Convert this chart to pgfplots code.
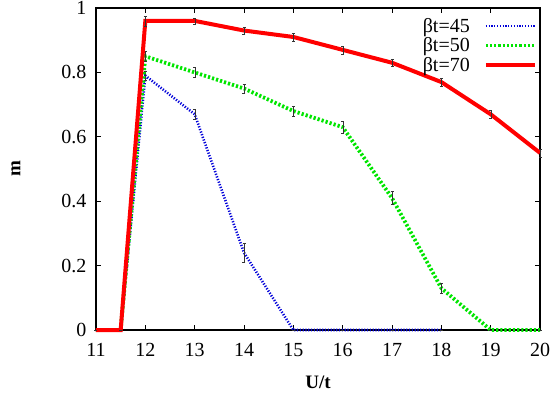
\documentclass[border=0pt]{standalone}
\usepackage{pgfplots}
\pgfplotsset{compat=1.18}
\usepackage{fontspec}
\setmainfont{Liberation Serif}
\begin{document}
\begin{tikzpicture}
\begin{axis}[
  name=ax,
  scale only axis,
  width=444pt, height=322pt,
  xmin=11, xmax=20, ymin=0, ymax=1,
  xtick={11,12,...,20},
  ytick={0,0.2,0.4,0.6,0.8,1},
  yticklabels={0,0.2,0.4,0.6,0.8,1},
  tick align=inside,
  major tick length=5pt,
  axis line style={line width=1.2pt},
  tick style={black, line width=0.8pt},
  ticklabel style={font=\fontsize{20}{22}\selectfont},
  /pgf/number format/assume math mode=true,
  xticklabel style={yshift=-10pt},
  yticklabel style={xshift=-6pt},
  xlabel={U/t},
  ylabel={m},
  label style={font=\fontsize{19}{22}\selectfont\bfseries},
  xlabel style={at={(axis description cs:0.5,0)}, anchor=north, yshift=-42pt},
  ylabel style={at={(axis description cs:0,0.5)}, anchor=south, yshift=72pt},
  clip=false,
  legend style={draw=none, fill=none, at={(1,1)}, anchor=north east,
    font=\fontsize{20}{20}\selectfont, row sep=0pt, xshift=-3pt, yshift=-8pt,
    inner sep=0pt, column sep=12pt},
  legend cell align=right,
  legend plot pos=right,
  legend image code/.code={\draw[#1] (0pt,0pt) -- (49pt,0pt);},
  error bars/y dir=both,
  error bars/y explicit,
  error bars/error bar style={black!80, line width=0.3pt, solid},
  error bars/error mark options={black!80, line width=0.3pt, solid, rotate=90, mark size=1.5pt},
]
\addplot[blue!85!black, line width=2.6pt, dash pattern=on 1.2pt off 1.6pt] coordinates {
 (11,0) +- (0,0) (11.5,0) +- (0,0) (12,0.79) +- (0,0.015) (13,0.67) +- (0,0.015) (14,0.24) +- (0,0.03)
 (15,0) +- (0,0) (16,0) +- (0,0) (17,0) +- (0,0) (18,0) +- (0,0)};
\addlegendentry{βt=45}
\addplot[green!90!black, line width=3.8pt, dash pattern=on 2.2pt off 2pt] coordinates {
 (11,0) +- (0,0) (11.5,0) +- (0,0) (12,0.85) +- (0,0.015) (13,0.80) +- (0,0.015) (14,0.75) +- (0,0.015)
 (15,0.68) +- (0,0.015) (16,0.63) +- (0,0.02) (17,0.41) +- (0,0.02) (18,0.13) +- (0,0.015)
 (19,0) +- (0,0) (20,0) +- (0,0)};
\addlegendentry{βt=50}
\addplot[red, line width=4pt, solid] coordinates {
 (11,0) +- (0,0) (11.5,0) +- (0,0) (12,0.96) +- (0,0.015) (13,0.96) +- (0,0.01) (14,0.93) +- (0,0.012)
 (15,0.91) +- (0,0.012) (16,0.87) +- (0,0.012) (17,0.83) +- (0,0.012) (18,0.77) +- (0,0.012)
 (19,0.67) +- (0,0.012) (20,0.55) +- (0,0.012)};
\addlegendentry{βt=70}
\end{axis}
\pgfresetboundingbox
\path ([xshift=-96pt,yshift=-66pt]ax.south west) rectangle ([xshift=14pt,yshift=8pt]ax.north east);
\end{tikzpicture}
\end{document}
